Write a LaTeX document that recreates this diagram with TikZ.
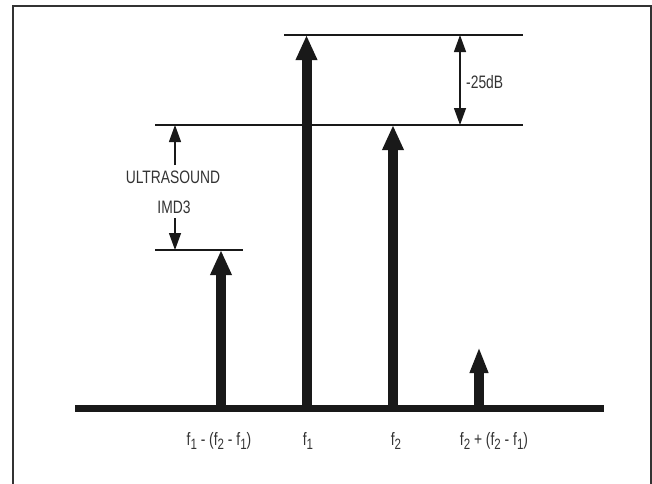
\documentclass[tikz,border=0pt]{standalone}
\usepackage{fontspec}
\setmainfont[FakeStretch=0.77]{Liberation Sans}
\usetikzlibrary{arrows.meta}
\newcommand\sbs[1]{\raisebox{-0.4ex}{\fontsize{15}{15}\selectfont #1}}
\begin{document}
\begin{tikzpicture}[x=1pt,y=-1pt,
  frame/.style={draw=black!80,line width=2pt},
  level/.style={draw=black!90,line width=1.8pt},
  baseline/.style={draw=black!90,line width=7pt},
  tone/.style={draw=black!90,line width=10pt,-{Triangle[width=20pt,length=25pt]}},
  smalltone/.style={draw=black!90,line width=10pt,-{Triangle[width=17pt,length=26pt]}},
  dim/.style={draw=black!90,line width=1.3pt,-{Triangle[width=12pt,length=17pt]}},
  lbl/.style={font=\fontsize{18}{18}\selectfont,text=black!80,inner sep=0pt}]
\useasboundingbox (0,0) rectangle (652,483);
\draw[frame] (12.5,484) -- (12.5,5.5) -- (651,5.5) -- (651,484);
% reference levels
\coordinate (t1) at (284,35);
\coordinate (t2) at (523,35);
\coordinate (m1) at (155,125);
\coordinate (m2) at (523,125);
\coordinate (l1) at (155,250);
\coordinate (l2) at (243,250);
\draw[level] (t1) -- (t2);
\draw[level] (m1) -- (m2);
\draw[level] (l1) -- (l2);
% baseline
\coordinate (b1) at (75,408);
\coordinate (b2) at (604,408);
\draw[baseline] (b1) -- (b2);
% tones
\coordinate (s0) at (221,408); \coordinate (h0) at (221,250);
\coordinate (s1) at (306.5,408); \coordinate (h1) at (306.5,35);
\coordinate (s2) at (393,408); \coordinate (h2) at (393,125);
\coordinate (s3) at (479,408); \coordinate (h3) at (479,347);
\draw[tone] (s0) -- (h0);
\draw[tone] (s1) -- (h1);
\draw[tone] (s2) -- (h2);
\draw[smalltone] (s3) -- (h3);
% -25dB dimension
\coordinate (d1) at (460,35);
\coordinate (d2) at (460,125);
\draw[dim,{Triangle[width=12pt,length=17pt]}-{Triangle[width=12pt,length=17pt]}] (d1) -- (d2);
\node[lbl,anchor=west] (db) at (466,82) {-25dB};
% ultrasound IMD3
\node[lbl] (us) at (173,177) {ULTRASOUND};
\node[lbl] (imd) at (174,207) {IMD3};
\coordinate (u1) at (175,165);
\coordinate (u2) at (175,125);
\coordinate (v1) at (175,218);
\coordinate (v2) at (175,250);
\draw[dim] (u1) -- (u2);
\draw[dim] (v1) -- (v2);
% frequency labels
\node[lbl] (f0) at (219,441) {f\sbs{1} - (f\sbs{2} - f\sbs{1})};
\node[lbl] (f1) at (308,441) {f\sbs{1}};
\node[lbl] (f2) at (396,441) {f\sbs{2}};
\node[lbl] (f3) at (494,441) {f\sbs{2} + (f\sbs{2} - f\sbs{1})};
\end{tikzpicture}
\end{document}
